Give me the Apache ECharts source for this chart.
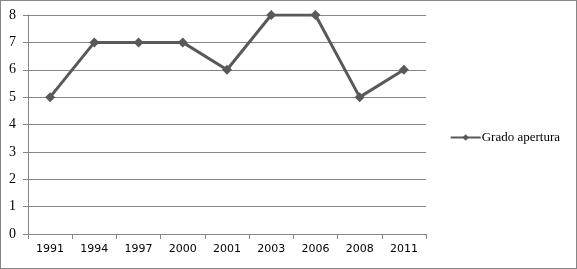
<!DOCTYPE html>
<html>
<head>
<meta charset="utf-8">
<script src="https://cdn.jsdelivr.net/npm/echarts@6/dist/echarts.min.js"></script>
<style>
  html, body { margin: 0; padding: 0; background: #fff; }
  #chart { width: 577px; height: 269px; box-sizing: border-box; border: 1px solid #868686; }
</style>
</head>
<body>
<div id="chart"></div>
<script>
// años y valores
const years = ['1991', '1994', '1997', '2000', '2001', '2003', '2006', '2008', '2011']
const gradoApertura = [5, 7, 7, 7, 6, 8, 8, 5, 6]
const seriesName = 'Grado apertura'

let myChart = echarts.init(document.getElementById('chart'))
let option = {
  backgroundColor: '#FFFFFF',
  animation: false,
  grid: {
    left: 27,
    right: 150,
    top: 14,
    bottom: 34
  },
  legend: {
    data: [{ name: seriesName }],
    right: 11,
    top: 125,
    itemWidth: 30,
    itemHeight: 8,
    textStyle: {
      fontFamily: 'Liberation Serif',
      fontSize: 13,
      color: '#000',
      padding: [0, 0, 0, -4]
    }
  },
  xAxis: {
    type: 'category',
    data: years,
    boundaryGap: true,
    axisLine: { lineStyle: { color: '#868686', width: 1 } },
    axisTick: { show: true, length: 5, lineStyle: { color: '#868686' } },
    axisLabel: {
      color: '#000',
      fontFamily: 'DejaVu Sans',
      fontSize: 11,
      margin: 10
    }
  },
  yAxis: {
    type: 'value',
    min: 0,
    max: 8,
    interval: 1,
    axisLine: { show: true, lineStyle: { color: '#868686', width: 1 } },
    axisTick: { show: true, length: 5, lineStyle: { color: '#868686' } },
    splitLine: { lineStyle: { color: '#868686', width: 1 } },
    axisLabel: {
      color: '#000',
      fontFamily: 'Liberation Serif',
      fontSize: 14,
      margin: 12
    }
  },
  series: [
    {
      name: seriesName,
      type: 'line',
      data: gradoApertura,
      symbol: 'diamond',
      symbolSize: 10,
      lineStyle: { color: '#595959', width: 3 },
      itemStyle: { color: '#595959' }
    }
  ]
}
myChart.setOption(option)
</script>
</body>
</html>
